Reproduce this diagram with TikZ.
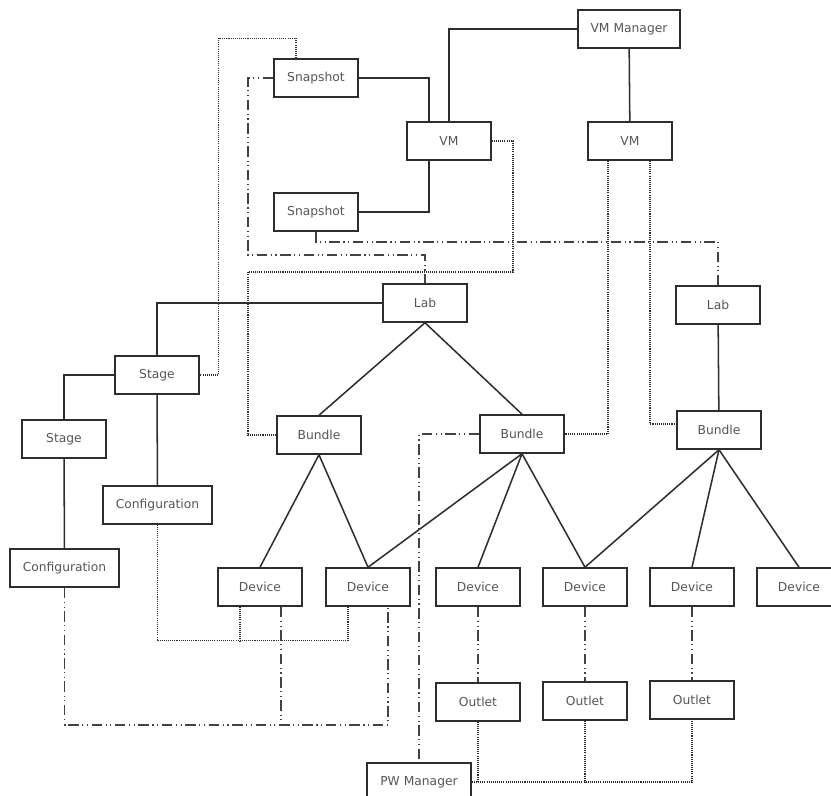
\documentclass[tikz,border=0pt]{standalone}
\usepackage{fontspec}
\setmainfont{DejaVu Sans}
\usetikzlibrary{calc}
\definecolor{lnDark}{RGB}{45, 45, 45}
\definecolor{txGray}{RGB}{85, 85, 85}
\tikzset{
  unit/.style={rectangle, draw=lnDark, line width=1.3pt, fill=white, minimum width=2.52cm, minimum height=1.14cm, inner sep=0pt, text=txGray, font=\fontsize{10.5}{12}\selectfont},
  wideunit/.style={unit, minimum width=#1},
  wideunit/.default=3.27cm,
  link/.style={draw=lnDark, line width=1.3pt},
  dotlink/.style={draw=lnDark, line width=1.2pt, dash pattern=on 0.9pt off 0.9pt},
  ddlink/.style={draw=lnDark!90, line width=1.3pt, dash pattern=on 9pt off 3pt on 1pt off 3pt on 1pt off 3pt},
}
\begin{document}
\begin{tikzpicture}[x=0.03cm, y=-0.03cm]
  \useasboundingbox (0,0) rectangle (831,796);

  % Virtual machines
  \node[wideunit=3.06cm] (vmm) at (629,29) {VM Manager};
  \node[unit] (snap1) at (316,78) {Snapshot};
  \node[unit] (vma) at (449,141) {VM};
  \node[unit] (snap2) at (316,212) {Snapshot};
  \node[unit] (vmb) at (630,141) {VM};

  % Labs and stages
  \node[unit] (laba) at (425,303) {Lab};
  \node[unit] (labb) at (718,305) {Lab};
  \node[unit] (stga) at (157,375) {Stage};
  \node[unit] (stgb) at (64,439) {Stage};
  \node[wideunit] (cfga) at (157.5,505) {Configuration};
  \node[wideunit] (cfgb) at (64.5,568) {Configuration};

  % Bundles
  \node[unit] (bnda) at (319,435) {Bundle};
  \node[unit] (bndb) at (522,434) {Bundle};
  \node[unit] (bndc) at (719,430) {Bundle};

  % Devices
  \node[unit] (dev1) at (260,587) {Device};
  \node[unit] (dev2) at (368,587) {Device};
  \node[unit] (dev3) at (478,587) {Device};
  \node[unit] (dev4) at (585,587) {Device};
  \node[unit] (dev5) at (692,587) {Device};
  \node[unit] (dev6) at (799,587) {Device};

  % Power
  \node[unit] (out1) at (478,702) {Outlet};
  \node[unit] (out2) at (585,701) {Outlet};
  \node[unit] (out3) at (692,700) {Outlet};
  \node[wideunit=3.12cm] (pwm) at (419,782) {PW Manager};

  % Solid links
  \draw[link] (vmm.west) -| (vma.north);
  \draw[link] (vmm) -- (vmb);
  \draw[link] (snap1.east) -| ($(vma.north)+(-20,0)$);
  \draw[link] (snap2.east) -| ($(vma.south)+(-20,0)$);
  \draw[link] (laba.west) -| (stga.north);
  \draw[link] (stga.west) -| (stgb.north);
  \draw[link] (stga) -- (cfga);
  \draw[link] (stgb) -- (cfgb);
  \draw[link] (laba.south) -- (bnda.north);
  \draw[link] (laba.south) -- (bndb.north);
  \draw[link] (labb) -- (bndc);
  \draw[link] (bnda.south) -- (dev1.north);
  \draw[link] (bnda.south) -- (dev2.north);
  \draw[link] (bndb.south) -- (dev2.north);
  \draw[link] (bndb.south) -- (dev3.north);
  \draw[link] (bndb.south) -- (dev4.north);
  \draw[link] (bndc.south) -- (dev4.north);
  \draw[link] (bndc.south) -- (dev5.north);
  \draw[link] (bndc.south) -- (dev6.north);

  % Dotted links
  \draw[dotlink] ($(snap1.north)+(-20,0)$) -- ++(0,-20) -| ($(stga.east)+(19,0)$) -- (stga.east);
  \draw[dotlink] (vma.east) -| (513,272) -- (248,272) |- (bnda.west);
  \draw[dotlink] ($(vmb.south)+(-22,0)$) |- (bndb.east);
  \draw[dotlink] ($(vmb.south)+(20,0)$) |- ($(bndc.west)+(0,-6)$);
  \draw[dotlink] (cfga.south) -- ++(0,116) -| ($(dev2.south)+(-20,0)$);
  \draw[dotlink] ($(dev1.south)+(-20,0)$) -- ++(0,34);
  \draw[dotlink] (pwm.east) -| (out3.south);
  \draw[dotlink] (out1.south) -- (out1.south |- pwm.east);
  \draw[dotlink] (out2.south) -- (out2.south |- pwm.east);

  % Dash-dot links
  \draw[ddlink] (snap1.west) -| (248,255) -| (laba.north);
  \draw[ddlink] (snap2.south) -- ++(0,10) -| (labb.north);
  \draw[ddlink] (bndb.west) -| (pwm.north);
  \draw[ddlink] (cfgb.south) -- ++(0,137) -| ($(dev2.south)+(20,0)$);
  \draw[ddlink] ($(dev1.south)+(21,0)$) -- ++(0,119);
  \draw[ddlink] (dev3) -- (out1);
  \draw[ddlink] (dev4) -- (out2);
  \draw[ddlink] (dev5) -- (out3);
\end{tikzpicture}
\end{document}
